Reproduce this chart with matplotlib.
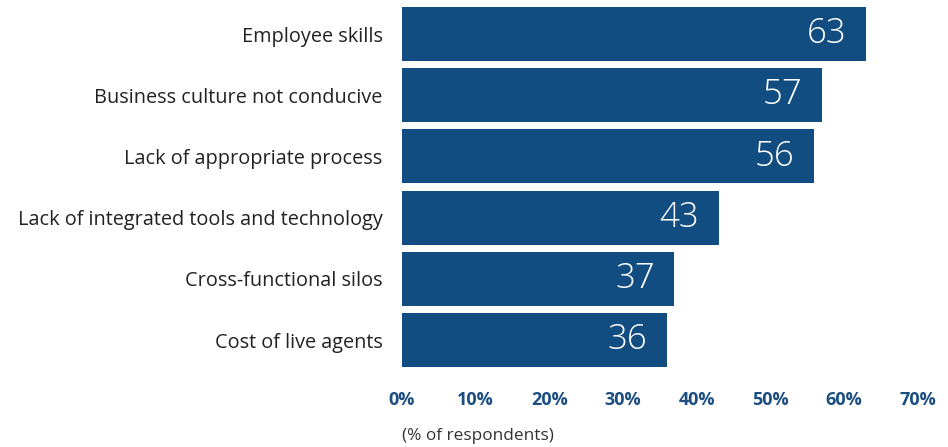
import matplotlib
matplotlib.use('Agg')
import matplotlib.pyplot as plt

categories = [
    'Employee skills',
    'Business culture not conducive',
    'Lack of appropriate process',
    'Lack of integrated tools and technology',
    'Cross-functional silos',
    'Cost of live agents',
]
values = [63, 57, 56, 43, 37, 36]
xticks = [0, 10, 20, 30, 40, 50, 60, 70]
xtick_labels = [f'{t}%' for t in xticks]

BAR = '#114d80'
plt.rcParams['font.family'] = ['Open Sans', 'DejaVu Sans']

fig = plt.figure(figsize=(9.48, 4.47), dpi=100)
ax = fig.add_axes([402 / 948, 1 - 370.6 / 447, (917.5 - 402) / 948, 367.2 / 447])

ypos = list(range(len(categories)))
ax.barh(ypos, values, height=0.88, color=BAR)
ax.set_xlim(0, 70)
ax.set_ylim(len(categories) - 0.5, -0.5)

for y, v in zip(ypos, values):
    ax.text(v - 2.7, y, str(v), color='white', fontsize=25, fontweight='light',
            ha='right', va='center')

ax.set_yticks(ypos)
ax.set_yticklabels(categories, fontsize=14.3, color='#222222')
ax.set_xticks(xticks)
ax.set_xticklabels(xtick_labels, fontsize=13, fontweight='bold', color='#1c4f80')
ax.tick_params(axis='y', length=0, pad=14)
ax.tick_params(axis='x', length=0, pad=15)
for s in ax.spines.values():
    s.set_visible(False)

fig.text(402 / 948, 1 - 436 / 447, '(% of respondents)', fontsize=12.4,
         color='#333333', ha='left', va='center')

plt.savefig('out.png', dpi=100)
